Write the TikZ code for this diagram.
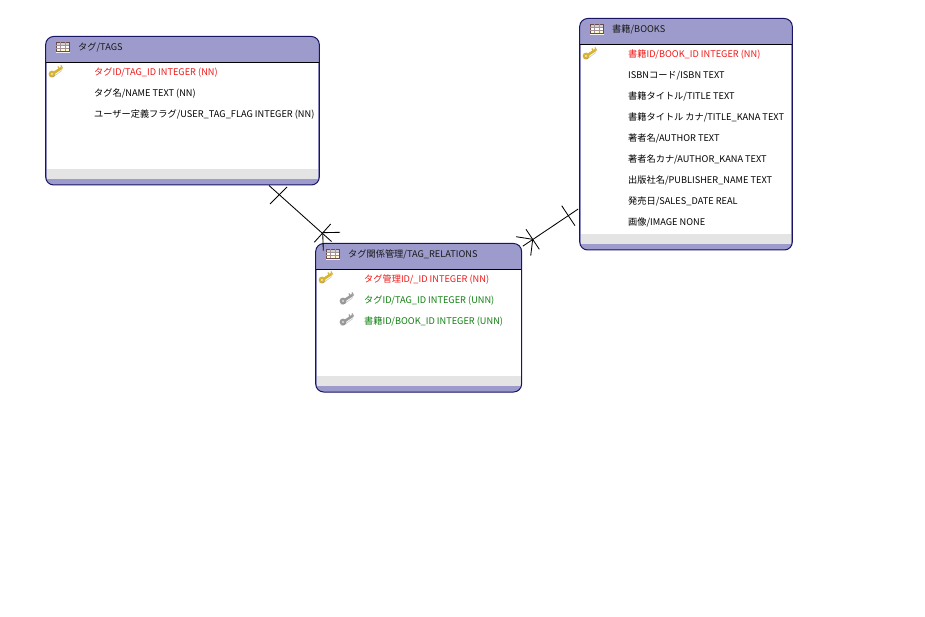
\documentclass[tikz,border=0pt]{standalone}
\usepackage{fontspec}
\setmainfont{Noto Sans CJK JP}
\definecolor{hdr}{HTML}{9C9BCB}
\definecolor{edge}{HTML}{1A1464}
\definecolor{band}{HTML}{E4E4E4}
\definecolor{pk}{HTML}{F01818}
\definecolor{fk}{HTML}{108010}
\definecolor{goldk}{HTML}{D8B530}
\definecolor{silverk}{HTML}{9A9A9A}
\definecolor{icongrid}{HTML}{6A4A50}
\tikzset{
  entity/.style={draw=edge,line width=1pt,rounded corners=8pt,inner sep=0pt,rectangle},
  rowtext/.style={anchor=base west,inner sep=0pt,font=\fontsize{9.2}{11}\selectfont},
  titletext/.style={rowtext,text=black!90},
  plain/.style={rowtext,text=black},
  pkrow/.style={rowtext,text=pk},
  fkrow/.style={rowtext,text=fk},
  link/.style={draw=black,line width=0.85pt},
}
% #1 left #2 top #3 right #4 bottom #5 name
\newcommand{\entitybox}[5]{%
  \fill[hdr,rounded corners=8pt] (#1,#2) rectangle (#3,#4);
  \fill[white] (#1+1,#2+25.8) rectangle (#3-1,#4-16);
  \fill[band] (#1+1,#4-16) rectangle (#3-1,#4-6);
  \draw[black,line width=1pt] (#1,#2+25.8) -- (#3,#2+25.8);
  \node[entity,minimum width={(#3-#1)*1pt},minimum height={(#4-#2)*1pt}] (#5) at ({(#1+#3)/2},{(#2+#4)/2}) {};
  \tableicon{#1+17}{#2+10.5}
}
\newcommand{\tableicon}[2]{%
  \fill[white!85!hdr] (#1-7,#2+4) rectangle (#1+7,#2+6.5);
  \fill[white] (#1-6,#2-5) rectangle (#1+6,#2+4.5);
  \fill[yellow!22] (#1-6,#2+1) rectangle (#1+6,#2+4.5);
  \fill[black!18] (#1-6,#2-5) rectangle (#1+6,#2-2);
  \draw[icongrid,line width=0.8pt] (#1-6.5,#2-5) rectangle (#1+6.5,#2+4.5);
  \draw[icongrid!60,line width=0.35pt] (#1-6.5,#2-2) -- (#1+6.5,#2-2) (#1-6.5,#2+1.2) -- (#1+6.5,#2+1.2) (#1-2.2,#2-5) -- (#1-2.2,#2+4.5) (#1+2.2,#2-5) -- (#1+2.2,#2+4.5);
}
\newcommand{\keyicon}[3]{%
  \draw[#3,line width=2.6pt] (#1+5.5,#2-4) -- (#1-3,#2+1.5);
  \draw[#3,line width=1.3pt] (#1+2,#2-5.5) -- (#1+3.2,#2-3) (#1+5,#2-6.5) -- (#1+6.5,#2-3.5);
  \fill[#3] (#1-4,#2+2) circle (3.4);
  \fill[white,opacity=.65] (#1-4,#2+2) circle (1.2);
  \draw[black!55,opacity=.45,line width=0.5pt] (#1-6.5,#2+5) -- (#1-3,#2+5) -- (#1+6,#2-1.5);
}
\begin{document}
\begin{tikzpicture}[x=1pt,y=-1pt]
\useasboundingbox (0,0) rectangle (925,617);
\fill[white] (0,0) rectangle (925,617);

\entitybox{45.7}{36.5}{319.3}{185}{tags}
\entitybox{579.7}{18.5}{792.3}{250}{books}
\entitybox{315.7}{243.5}{521.6}{392}{rel}

\coordinate (tagsEnd) at ([xshift=-50.8pt]tags.south east);
\coordinate (relEnd) at ([xshift=16.3pt,yshift=1.5pt]rel.north west);
\coordinate (booksEnd) at ([xshift=-1pt,yshift=41.5pt]books.south west);
\coordinate (relEndB) at ([xshift=0.7pt,yshift=-3.2pt]rel.north east);
\draw[link] (tagsEnd) -- (relEnd);
\draw[link] (booksEnd) -- (relEndB);
\draw[link] (287,187) -- (270,204);
\draw[link] (330.7,224) -- (314.3,242.3);
\draw[link] (322.7,232.7) -- (340,232.3);
\draw[link] (322.7,232.7) -- (323.3,250.7);
\draw[link] (561.7,205.7) -- (575,225.7);
\draw[link] (526,229.3) -- (539.3,249.3);
\draw[link] (532.7,239.3) -- (516,236.7);
\draw[link] (532.7,239.3) -- (530.7,255.7);

% TAGS
\node[titletext] (t0) at (78,50.5) {タグ/TAGS};
\keyicon{56}{72}{goldk}
\node[pkrow] (t1) at (94,75.5) {タグID/TAG\_ID INTEGER (NN)};
\node[plain] (t2) at (94,96.5) {タグ名/NAME TEXT (NN)};
\node[plain] (t3) at (94,117.5) {ユーザー定義フラグ/USER\_TAG\_FLAG INTEGER (NN)};

% BOOKS
\node[titletext] (b0) at (612,32.5) {書籍/BOOKS};
\keyicon{590}{54}{goldk}
\node[pkrow] (b1) at (628,57.5) {書籍ID/BOOK\_ID INTEGER (NN)};
\node[plain] (b2) at (628,78.5) {ISBNコード/ISBN TEXT};
\node[plain] (b3) at (628,99.5) {書籍タイトル/TITLE TEXT};
\node[plain] (b4) at (628,120.5) {書籍タイトル カナ/TITLE\_KANA TEXT};
\node[plain] (b5) at (628,141.5) {著者名/AUTHOR TEXT};
\node[plain] (b6) at (628,162.5) {著者名カナ/AUTHOR\_KANA TEXT};
\node[plain] (b7) at (628,183.5) {出版社名/PUBLISHER\_NAME TEXT};
\node[plain] (b8) at (628,204.5) {発売日/SALES\_DATE REAL};
\node[plain] (b9) at (628,225.5) {画像/IMAGE NONE};

% RELATIONS
\node[titletext] (r0) at (348,257.5) {タグ関係管理/TAG\_RELATIONS};
\keyicon{326}{278}{goldk}
\keyicon{347}{299}{silverk}
\keyicon{347}{320}{silverk}
\node[pkrow] (r1) at (364,282.5) {タグ管理ID/\_ID INTEGER (NN)};
\node[fkrow] (r2) at (364,303.5) {タグID/TAG\_ID INTEGER (UNN)};
\node[fkrow] (r3) at (364,324.5) {書籍ID/BOOK\_ID INTEGER (UNN)};
\end{tikzpicture}
\end{document}
